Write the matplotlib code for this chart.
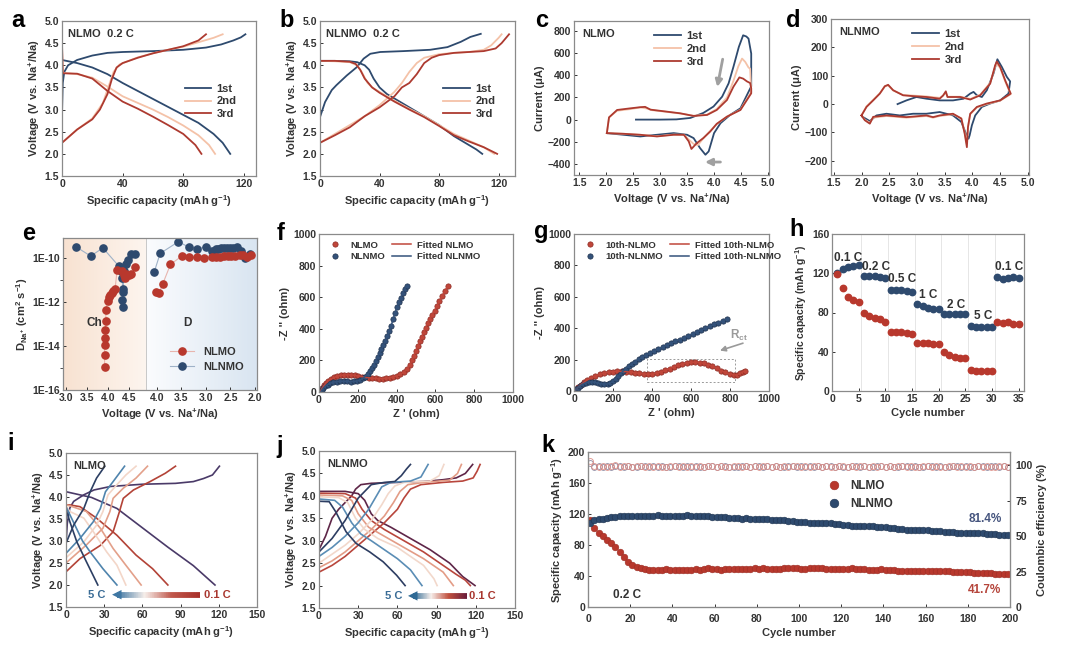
import numpy as np
import matplotlib
matplotlib.use("Agg")
import matplotlib.pyplot as plt
from matplotlib.collections import LineCollection
from matplotlib.colors import LinearSegmentedColormap, to_rgb
from matplotlib.ticker import FixedLocator, FuncFormatter

plt.rcParams.update({
    "font.family": ["Liberation Sans", "DejaVu Sans"],
    "font.weight": "bold",
    "axes.labelweight": "bold",
    "mathtext.fontset": "custom",
    "mathtext.rm": "Liberation Sans:bold",
    "mathtext.it": "Liberation Sans:bold",
    "mathtext.bf": "Liberation Sans:bold",
    "font.size": 7.5,
    "text.color": "#333333",
    "axes.labelcolor": "#333333",
    "xtick.color": "#333333",
    "ytick.color": "#333333",
})

NAVY = "#2e4a6e"
PEACH = "#f4c2a8"
DRED = "#ad3a30"
RED = "#b8382d"

# ---------------- data ----------------
# a: NLMO 0.2 C, (capacity, voltage)
a_ch = {
    "1st": [(0, 2.9), (0.5, 3.6), (1.5, 3.85), (4, 4.0), (10, 4.12), (20, 4.22), (30, 4.28), (40, 4.30),
            (60, 4.32), (80, 4.35), (95, 4.40), (105, 4.47), (113, 4.56), (118, 4.63), (121, 4.70)],
    "2nd": [(0, 2.25), (10, 2.55), (20, 2.8), (27, 3.15), (31, 3.55), (34, 3.85), (38, 4.02), (50, 4.18),
            (60, 4.27), (70, 4.35), (80, 4.42), (90, 4.52), (100, 4.62), (106, 4.70)],
    "3rd": [(0, 2.25), (5, 2.4), (10, 2.55), (20, 2.78), (25, 3.0), (30, 3.35), (33, 3.7), (36, 3.95),
            (40, 4.05), (50, 4.17), (60, 4.27), (70, 4.35), (80, 4.43), (90, 4.56), (95, 4.70)],
}
a_dis = {
    "1st": [(0, 4.12), (10, 4.05), (20, 3.95), (30, 3.8), (40, 3.6), (50, 3.42), (60, 3.24), (70, 3.06),
            (80, 2.88), (90, 2.7), (100, 2.45), (106, 2.25), (111, 2.0)],
    "2nd": [(0, 4.4), (0.5, 3.83), (10, 3.8), (20, 3.72), (30, 3.52), (40, 3.3), (50, 3.15), (60, 3.0),
            (70, 2.83), (80, 2.64), (90, 2.42), (97, 2.2), (101, 2.0)],
    "3rd": [(0, 4.5), (0.5, 3.82), (10, 3.81), (20, 3.7), (30, 3.42), (40, 3.18), (50, 3.02), (60, 2.84),
            (70, 2.65), (80, 2.45), (88, 2.2), (92, 2.0)],
}
# b: NLNMO 0.2 C
b_ch = {
    "1st": [(0, 2.83), (3.4, 3.17), (7.9, 3.44), (11, 3.55), (18, 3.77), (24.8, 3.96), (29.3, 4.15),
            (33.8, 4.26), (40.5, 4.3), (56, 4.32), (74, 4.35), (85.6, 4.41), (94.6, 4.53), (101, 4.64),
            (108, 4.71)],
    "2nd": [(0, 2.25), (10, 2.45), (20, 2.65), (30, 2.85), (40, 3.1), (50, 3.4), (55, 3.6), (60, 3.85),
            (65, 4.05), (70, 4.17), (80, 4.25), (90, 4.28), (100, 4.3), (110, 4.35), (115, 4.45),
            (120, 4.62), (122, 4.7)],
    "3rd": [(0, 2.25), (10, 2.42), (20, 2.6), (30, 2.85), (40, 3.05), (50, 3.3), (55, 3.5), (60, 3.6),
            (65, 3.8), (70, 4.05), (75, 4.17), (80, 4.23), (90, 4.28), (100, 4.3), (110, 4.32),
            (118, 4.38), (122, 4.5), (127, 4.7)],
}
b_dis = {
    "1st": [(0, 4.1), (10, 4.1), (20, 4.09), (25, 4.07), (30, 4.0), (33, 3.9), (36, 3.7), (40, 3.5),
            (45, 3.35), (50, 3.25), (60, 3.05), (70, 2.85), (80, 2.65), (90, 2.4), (100, 2.2), (105, 2.1),
            (109, 2.0)],
    "2nd": [(0, 4.1), (10, 4.09), (20, 4.07), (25, 4.0), (28, 3.85), (32, 3.6), (35, 3.5), (40, 3.4),
            (50, 3.2), (60, 3.02), (70, 2.85), (80, 2.65), (90, 2.45), (100, 2.3), (110, 2.15), (117, 2.0)],
    "3rd": [(0, 4.1), (10, 4.1), (20, 4.08), (24, 4.03), (27, 3.9), (30, 3.7), (35, 3.5), (40, 3.38),
            (50, 3.18), (60, 3.0), (70, 2.83), (80, 2.63), (90, 2.42), (100, 2.28), (110, 2.15), (119, 2.0)],
}
# c: CV NLMO (voltage, current uA)
c_cv = {
    "1st": [(2.55, 0), (3.0, 0), (3.3, 2), (3.56, 15), (3.8, 60), (3.99, 118), (4.15, 207), (4.27, 327),
            (4.36, 477), (4.46, 656), (4.54, 761), (4.6, 750), (4.64, 731), (4.69, 596), (4.69, 387),
            (4.69, 300), (4.49, 102), (4.3, 43), (4.12, -32), (4.0, -122), (3.9, -287), (3.84, -317),
            (3.74, -257), (3.62, -167), (3.5, -137), (3.25, -122), (2.94, -137), (2.63, -152),
            (2.32, -137), (2.01, -122)],
    "2nd": [(2.01, -122), (2.05, 20), (2.2, 80), (2.45, 95), (2.63, 110), (2.75, 100), (2.85, 85),
            (3.12, 70), (3.37, 55), (3.62, 35), (3.87, 45), (4.05, 95), (4.24, 200), (4.36, 350),
            (4.45, 480), (4.52, 551), (4.58, 520), (4.64, 470), (4.67, 460), (4.69, 250), (4.49, 90),
            (4.24, 27), (4.05, -40), (3.93, -100), (3.8, -170), (3.7, -230), (3.62, -220), (3.53, -180),
            (3.44, -137), (3.25, -135), (2.94, -150), (2.63, -137), (2.32, -128), (2.01, -122)],
    "3rd": [(2.01, -122), (2.05, 20), (2.2, 87), (2.45, 102), (2.63, 112), (2.72, 115), (2.82, 90),
            (3.12, 72), (3.37, 57), (3.62, 33), (3.87, 42), (4.05, 87), (4.24, 177), (4.36, 297),
            (4.47, 381), (4.54, 370), (4.61, 345), (4.67, 330), (4.69, 282), (4.69, 237), (4.49, 87),
            (4.24, 27), (4.05, -38), (3.93, -107), (3.8, -167), (3.68, -212), (3.58, -265), (3.53, -197),
            (3.44, -137), (3.25, -137), (2.94, -152), (2.63, -137), (2.32, -128), (2.01, -122)],
}
# d: CV NLNMO
d_cv = {
    "1st": [(2.65, 0), (2.81, 13), (2.99, 25), (3.17, 19), (3.41, 13), (3.65, 13), (3.84, 19), (3.96, 37),
            (4.02, 43), (4.08, 31), (4.17, 25), (4.26, 49), (4.38, 108), (4.45, 158), (4.53, 131),
            (4.62, 96), (4.68, 80), (4.65, 37), (4.5, 13), (4.32, 2), (4.17, -10), (4.05, -40),
            (3.99, -75), (3.95, -110), (3.93, -122), (3.87, -98), (3.8, -63), (3.65, -40), (3.41, -28),
            (3.17, -34), (2.93, -34), (2.69, -40), (2.45, -34), (2.27, -40), (2.15, -60), (2.02, -45)],
    "2nd": [(2.0, -40), (2.09, -8), (2.21, 15), (2.33, 38), (2.42, 62), (2.48, 66), (2.57, 48),
            (2.75, 32), (2.93, 30), (3.17, 27), (3.41, 22), (3.47, 30), (3.52, 40), (3.55, 26),
            (3.78, 26), (3.96, 18), (4.14, 33), (4.32, 75), (4.41, 132), (4.43, 142), (4.5, 128),
            (4.59, 80), (4.69, 35), (4.5, 12), (4.26, 0), (4.08, -12), (3.96, -36), (3.92, -80),
            (3.9, -140), (3.86, -100), (3.8, -50), (3.65, -36), (3.41, -42), (3.29, -48), (3.17, -42),
            (2.81, -48), (2.45, -42), (2.21, -48), (2.15, -66), (2.06, -55), (2.0, -40)],
    "3rd": [(2.0, -40), (2.09, -10), (2.21, 13), (2.33, 37), (2.42, 63), (2.48, 68), (2.57, 49),
            (2.75, 31), (2.93, 28), (3.17, 25), (3.41, 19), (3.47, 30), (3.52, 45), (3.55, 25),
            (3.78, 25), (3.96, 16), (4.14, 31), (4.32, 72), (4.41, 137), (4.44, 150), (4.5, 131),
            (4.59, 84), (4.69, 37), (4.5, 13), (4.26, 2), (4.08, -10), (3.96, -34), (3.92, -81),
            (3.9, -152), (3.86, -104), (3.8, -51), (3.65, -34), (3.41, -40), (3.29, -46), (3.17, -40),
            (2.81, -46), (2.45, -40), (2.21, -45), (2.15, -69), (2.06, -57), (2.0, -40)],
}
# e: GITT diffusion coefficients, (voltage, log10 D)
e_nlmo_ch = [(3.92, -14.97), (3.92, -14.42), (3.92, -13.94), (3.92, -13.64), (3.94, -13.26), (3.95, -12.85),
             (3.95, -12.35), (3.99, -11.97), (4.02, -11.8), (4.05, -11.7), (4.09, -11.6), (4.13, -11.5),
             (4.17, -11.4), (4.22, -10.53), (4.33, -10.58), (4.38, -10.76), (4.40, -10.9), (4.44, -10.73),
             (4.5, -10.8), (4.56, -10.73), (4.64, -10.42)]
e_nlmo_dis = [(4.02, -11.55), (3.95, -11.6), (3.88, -11.2), (3.72, -10.3), (3.49, -9.92), (3.34, -9.97),
              (3.19, -9.97), (3.04, -10.0), (2.88, -9.97), (2.8, -9.96), (2.72, -9.95), (2.64, -9.93),
              (2.56, -9.92), (2.48, -9.9), (2.4, -9.9), (2.31, -9.88), (2.24, -9.88), (2.17, -9.97),
              (2.09, -9.85)]
e_nlnmo_ch = [(3.24, -9.5), (3.59, -9.92), (3.88, -9.55), (4.26, -10.38), (4.31, -10.6), (4.34, -10.9),
              (4.35, -11.4), (4.35, -11.55), (4.34, -11.9), (4.35, -12.24), (4.38, -10.6), (4.43, -10.3),
              (4.48, -10.08), (4.54, -9.82), (4.64, -9.82)]
e_nlnmo_dis = [(4.05, -10.64), (3.93, -9.8), (3.56, -9.27), (3.34, -9.52), (3.19, -9.58), (3.0, -9.52),
               (2.87, -9.67), (2.8, -9.62), (2.75, -9.6), (2.7, -9.57), (2.64, -9.55), (2.57, -9.55),
               (2.51, -9.55), (2.44, -9.55), (2.37, -9.52), (2.29, -9.7), (2.2, -10.03), (2.1, -9.82)]
# f: EIS fresh (Z', -Z'')
f_nlmo = [(8, 2), (12, 14), (18, 28), (26, 42), (36, 56), (48, 70), (62, 82), (78, 92), (95, 100), (112, 105),
          (130, 108), (148, 109), (166, 108), (184, 105), (202, 101), (220, 97), (238, 93), (256, 90),
          (274, 87), (292, 86), (310, 85), (328, 85), (346, 87), (364, 90), (382, 95), (400, 102),
          (420, 112), (440, 128), (456, 148), (469, 172), (480, 200), (490, 230), (500, 262), (510, 292),
          (520, 320), (530, 348), (540, 378), (550, 408), (560, 436), (572, 462), (584, 490), (596, 515),
          (608, 545), (621, 576), (635, 608), (650, 640), (664, 672)]
f_nlnmo = [(10, 2), (15, 12), (22, 24), (32, 36), (44, 47), (58, 56), (74, 62), (92, 66), (110, 68),
           (128, 68), (146, 67), (164, 66), (182, 67), (198, 70), (212, 76), (226, 86), (238, 98), (250, 112),
           (262, 130), (272, 150), (282, 172), (292, 195), (302, 220), (312, 246), (322, 272), (332, 298),
           (342, 325), (352, 352), (362, 385), (372, 420), (382, 460), (392, 500), (402, 535), (412, 568),
           (422, 598), (432, 626), (442, 652), (452, 674)]
# g: EIS after 10 cycles
g_nlmo = [(5, 3), (12, 12), (22, 25), (35, 40), (50, 55), (68, 70), (88, 84), (110, 96), (132, 106), (155, 114),
          (178, 120), (200, 123), (222, 125), (245, 125), (268, 123), (290, 120), (312, 116), (335, 112),
          (358, 108), (380, 106), (402, 108), (424, 114), (446, 122), (468, 132), (490, 143), (512, 154),
          (534, 164), (556, 172), (578, 178), (600, 182), (622, 183), (644, 181), (666, 176), (688, 168),
          (710, 157), (732, 144), (754, 130), (776, 118), (798, 108), (820, 102), (838, 104), (852, 112),
          (866, 122), (876, 128)]
g_nlnmo = [(4, 2), (10, 10), (20, 22), (32, 34), (45, 44), (60, 52), (76, 57), (92, 58), (108, 55), (124, 50),
           (140, 46), (156, 44), (172, 45), (186, 50), (200, 62), (214, 78), (228, 96), (240, 112), (252, 127),
           (265, 142), (280, 157), (296, 172), (313, 187), (331, 201), (350, 215), (370, 229), (390, 242),
           (411, 255), (432, 267), (454, 280), (476, 292), (498, 304), (520, 316), (542, 328), (564, 340),
           (586, 352), (608, 364), (630, 376), (652, 388), (674, 400), (696, 412), (718, 424), (740, 436),
           (762, 447), (784, 458)]
# h: rate capability
h_cycles = list(range(1, 36))
h_nlmo = [119, 105, 96, 93, 91, 79, 76, 74, 73, 70, 60, 60, 60, 59, 58, 49, 49, 49, 48, 48,
          40, 37, 35, 34, 34, 21, 20, 20, 20, 20, 70, 69, 70, 68, 68]
h_nlnmo = [120, 124, 126, 127, 128, 117, 117, 117, 116, 115, 103, 103, 103, 102, 101, 89, 87, 85, 84, 84,
           78, 78, 78, 78, 78, 66, 65, 65, 65, 65, 116, 114, 115, 116, 115]
h_rates = ["0.1 C", "0.2 C", "0.5 C", "1 C", "2 C", "5 C", "0.1 C"]
h_rate_pos = [(3.1, 136), (8.3, 126), (13.1, 114), (18.1, 98), (23.3, 88), (28.3, 76), (33.3, 126)]
# i: NLMO rate profiles, order: first cycle, 0.1 C ... 5 C
i_ch = [
    [(0, 2.91), (1, 3.4), (3, 3.75), (6, 3.9), (14, 4.05), (22, 4.16), (35, 4.24), (60, 4.29), (86, 4.31),
     (100, 4.35), (108, 4.42), (115, 4.5), (120.5, 4.7)],
    [(0, 2.3), (11, 2.6), (27, 2.9), (37, 3.21), (42, 3.67), (45, 3.97), (53, 4.16), (66, 4.35), (78, 4.54),
     (86, 4.7)],
    [(0, 2.5), (16, 2.91), (29, 3.29), (34.5, 3.67), (37, 3.97), (45, 4.2), (55, 4.43), (64, 4.7)],
    [(0, 2.62), (14, 2.98), (24, 3.36), (29, 3.67), (33, 4.05), (40, 4.28), (47, 4.5), (55, 4.7)],
    [(0, 2.72), (11, 3.06), (21.5, 3.44), (27, 3.74), (31, 4.12), (37, 4.35), (46, 4.7)],
    [(0, 2.95), (6, 3.36), (14, 3.74), (19, 4.12), (24, 4.43), (30.5, 4.7)],
]
i_dis = [
    [(0, 4.12), (20, 3.99), (40, 3.74), (60, 3.3), (80, 2.86), (100, 2.44), (117, 2.0)],
    [(0, 3.82), (3, 3.82), (11, 3.78), (24, 3.52), (40, 3.13), (55, 2.68), (68, 2.37), (80, 2.0)],
    [(0, 3.82), (3, 3.8), (16, 3.67), (27, 3.29), (37, 2.83), (47, 2.45), (59, 2.0)],
    [(0, 3.8), (3, 3.67), (14, 3.52), (21.5, 3.21), (32, 2.75), (40, 2.45), (47, 2.0)],
    [(0, 3.78), (3, 3.6), (8, 3.3), (13, 3.0), (19, 2.75), (29, 2.37), (40, 2.0)],
    [(0, 3.72), (3, 3.44), (8.5, 2.98), (16, 2.53), (25, 2.0)],
]
i_colors = ["#4a3a68", "#b34337", "#e3a08a", "#f3d6c8", "#4f84ad", "#2c3f63"]
# j: NLNMO rate profiles
j_ch = [
    [(0, 2.8), (5, 3.1), (10, 3.5), (15, 3.7), (20, 3.85), (25, 4.0), (28, 4.15), (32, 4.25), (40, 4.28),
     (60, 4.3), (80, 4.32), (95, 4.36), (105, 4.4), (112, 4.5), (117.6, 4.7)],
    [(0, 2.3), (10, 2.45), (20, 2.65), (30, 2.9), (40, 3.15), (50, 3.4), (60, 3.7), (65, 3.95), (70, 4.15),
     (78, 4.25), (95, 4.3), (110, 4.33), (118, 4.4), (121, 4.55), (123.3, 4.7)],
    [(0, 2.4), (10, 2.55), (20, 2.75), (30, 3.0), (40, 3.25), (50, 3.55), (57, 3.85), (62, 4.1), (68, 4.25),
     (80, 4.3), (100, 4.35), (106, 4.5), (109, 4.7)],
    [(0, 2.5), (10, 2.7), (20, 2.9), (30, 3.15), (40, 3.45), (48, 3.8), (53, 4.05), (58, 4.22), (65, 4.3),
     (85, 4.33), (92, 4.45), (95.6, 4.7)],
    [(0, 2.65), (10, 2.85), (20, 3.1), (30, 3.4), (38, 3.7), (44, 4.0), (48, 4.2), (55, 4.3), (70, 4.33),
     (78, 4.42), (83.5, 4.7)],
    [(0, 2.75), (5, 2.9), (10, 3.05), (15, 3.25), (20, 3.45), (25, 3.7), (30, 3.95), (35, 4.1), (40, 4.25),
     (50, 4.3), (58, 4.32), (63, 4.45), (67, 4.6), (70, 4.7)],
]
j_dis = [
    [(0, 4.1), (20, 4.1), (30, 4.05), (35, 3.9), (40, 3.6), (45, 3.45), (55, 3.3), (70, 3.05), (85, 2.8),
     (100, 2.5), (110, 2.2), (119.4, 2.0)],
    [(0, 4.06), (20, 4.05), (28, 3.95), (33, 3.7), (40, 3.45), (50, 3.25), (65, 3.0), (80, 2.75), (95, 2.45),
     (105, 2.25), (112, 2.12), (115.8, 2.0)],
    [(0, 4.02), (18, 4.0), (25, 3.9), (30, 3.6), (38, 3.3), (50, 3.1), (65, 2.85), (80, 2.6), (95, 2.3),
     (102.8, 2.0)],
    [(0, 3.98), (15, 3.96), (22, 3.85), (28, 3.5), (35, 3.25), (45, 3.05), (60, 2.85), (70, 2.65), (80, 2.45),
     (88, 2.15), (90.4, 2.0)],
    [(0, 3.93), (12, 3.9), (18, 3.75), (25, 3.4), (32, 3.15), (40, 3.0), (50, 2.8), (60, 2.6), (70, 2.35),
     (78.8, 2.0)],
    [(0, 3.88), (7.8, 3.87), (12.9, 3.64), (20.7, 3.2), (28.4, 2.94), (38.8, 2.75), (49.1, 2.53),
     (59.4, 2.23), (65.9, 2.0)],
]
j_colors = ["#5e2648", "#b8463c", "#e39c86", "#f2d8cb", "#5a8db5", "#2d3d62"]
# k: long cycling at 0.2 C (every second cycle)
k_cycles = list(range(1, 200, 2))
k_nlnmo = [108, 112, 113, 114, 115, 116, 116, 117, 117, 117, 117, 118, 117, 118, 118, 118, 119, 118, 118, 117,
           118, 118, 118, 119, 118, 118, 117, 117, 117, 116, 116, 116, 116, 115, 115, 115, 114, 115, 114, 113,
           113, 113, 113, 112, 112, 112, 112, 111, 111, 110, 110, 110, 109, 109, 109, 108, 108, 108, 107, 107,
           106, 106, 105, 105, 105, 104, 104, 104, 103, 103, 103, 102, 102, 101, 101, 100, 100, 100, 99, 99,
           99, 98, 98, 98, 97, 97, 97, 96, 96, 96, 96, 95, 95, 95, 94, 94, 94, 93, 93, 93]
k_nlmo = [112, 102, 96, 91, 87, 82, 77, 71, 64, 58, 54, 52, 50, 49, 48, 48, 48, 48, 49, 48,
          48, 48, 48, 48, 48, 49, 48, 49, 50, 49, 49, 48, 49, 49, 49, 49, 49, 49, 49, 50,
          49, 50, 49, 49, 49, 49, 50, 50, 50, 50, 49, 49, 50, 50, 50, 50, 49, 49, 49, 49,
          49, 49, 50, 49, 49, 49, 48, 48, 48, 49, 48, 48, 48, 47, 47, 47, 47, 47, 47, 47,
          47, 46, 46, 46, 46, 46, 45, 45, 45, 45, 45, 44, 44, 44, 44, 44, 43, 43, 43, 43]
k_ce_nlmo = [103.2, 99.5, 98.8, 99.6, 98.9, 99.3, 99.8, 98.7, 99.4, 99.1, 98.6, 99.7, 99.2, 98.9, 99.5,
             98.8, 99.6, 99.0, 98.7, 99.4, 99.2, 98.9, 99.7, 98.6, 99.3, 99.0, 99.5, 98.8, 99.4, 99.1,
             98.7, 99.6, 99.0, 98.9, 99.5, 99.2, 98.6, 99.4, 99.0, 99.7, 98.8, 99.3, 99.1, 98.7, 99.5,
             99.0, 99.4, 98.8, 99.6, 99.1, 98.9, 99.3, 98.7, 99.5, 99.2, 98.8, 99.6, 99.0, 98.7, 99.4,
             99.1, 98.9, 99.5, 98.8, 99.3, 99.7, 98.9, 99.2, 98.7, 99.4, 99.0, 99.6, 98.8, 99.3, 99.1,
             98.7, 99.5, 99.0, 98.9, 99.4, 99.2, 98.8, 99.6, 99.0, 98.7, 99.3, 99.5, 98.9, 99.1, 98.8,
             99.4, 99.0, 99.6, 98.7, 99.2, 99.0, 98.8, 99.5, 99.1, 98.9]
k_ce_nlnmo = [101.5, 98.6, 99.2, 98.9, 99.5, 98.7, 99.1, 99.4, 98.8, 99.6, 99.0, 98.7, 99.3, 99.5, 98.9,
              99.2, 98.6, 99.4, 99.0, 98.8, 99.5, 99.1, 98.7, 99.3, 98.9, 99.6, 99.0, 98.8, 99.2, 99.5,
              98.7, 99.1, 99.4, 98.9, 99.0, 98.6, 99.5, 99.2, 98.8, 99.3, 99.6, 98.9, 99.1, 98.7, 99.4,
              99.0, 98.8, 99.5, 99.2, 98.7, 99.3, 99.0, 99.6, 98.9, 99.1, 98.8, 99.4, 99.2, 98.7, 99.5,
              99.0, 98.9, 99.3, 99.6, 98.8, 99.1, 99.0, 98.7, 99.4, 99.2, 98.9, 99.5, 99.0, 98.8, 99.3,
              99.1, 98.7, 99.6, 99.0, 98.9, 99.4, 99.2, 98.8, 99.5, 99.0, 98.7, 99.3, 99.1, 98.9, 99.6,
              99.0, 98.8, 99.4, 99.2, 98.7, 99.1, 99.5, 98.9, 99.2, 99.0]

# ---------------- helpers ----------------
W, H = 1080, 653
fig = plt.figure(figsize=(W / 100, H / 100), dpi=100)


def box(l, t, r, b):
    return [l / W, 1 - b / H, (r - l) / W, (b - t) / H]


def style(ax, xlabel, ylabel, ylsize=8):
    for s in ax.spines.values():
        s.set_color("#8a8a8a")
        s.set_linewidth(0.9)
    ax.tick_params(direction="in", length=2, width=0.7, labelsize=7.5, pad=2, colors="#333333")
    ax.set_xlabel(xlabel, fontsize=8, labelpad=3)
    ax.set_ylabel(ylabel, fontsize=ylsize, labelpad=2)


def curve(ax, pts, **kw):
    x, y = zip(*pts)
    return ax.plot(x, y, **kw)


def letter(x, y, s):
    fig.text(x / W, 1 - y / H, s, fontsize=17, fontweight="bold", color="black", va="baseline")


VLAB = "Voltage (V vs. Na$^{+}$/Na)"
CAPLAB = "Specific capacity (mAh g$^{-1}$)"
cyc_cols = {"1st": NAVY, "2nd": PEACH, "3rd": DRED}

# ---------------- a, b ----------------
for pos, ch, dis, title, xmax in [((62, 21, 256, 176), a_ch, a_dis, "NLMO  0.2 C", 128),
                                  ((320, 21, 515, 176), b_ch, b_dis, "NLNMO  0.2 C", 131)]:
    ax = fig.add_axes(box(*pos))
    for key in ["1st", "2nd", "3rd"]:
        curve(ax, ch[key], color=cyc_cols[key], lw=1.3, label=key)
        curve(ax, dis[key], color=cyc_cols[key], lw=1.3)
    ax.set_xlim(0, xmax)
    ax.set_ylim(1.5, 5.0)
    ax.set_xticks([0, 40, 80, 120])
    ax.set_yticks(np.arange(1.5, 5.01, 0.5))
    style(ax, CAPLAB, VLAB)
    ax.text(0.03, 0.95, title, transform=ax.transAxes, fontsize=8, va="top")
    ax.legend(loc="upper left", bbox_to_anchor=(0.58, 0.66), frameon=False, fontsize=8,
              handlelength=2.4, labelspacing=0.25, handletextpad=0.5)
letter(11, 27, "a")
letter(279, 27, "b")

# ---------------- c, d ----------------
for pos, cv, title, ylim, yt in [((574, 21, 769, 175), c_cv, "NLMO", (-500, 890), np.arange(-400, 801, 200)),
                                 ((831, 19, 1029, 175), d_cv, "NLNMO", (-250, 300), np.arange(-200, 301, 100))]:
    ax = fig.add_axes(box(*pos))
    for key in ["1st", "2nd", "3rd"]:
        curve(ax, cv[key], color=cyc_cols[key], lw=1.3, label=key)
    ax.set_xlim(1.4 if title == "NLMO" else 1.45, 5.02)
    ax.set_ylim(*ylim)
    ax.set_xticks(np.arange(1.5, 5.01, 0.5))
    ax.set_yticks(yt)
    style(ax, VLAB, "Current (\u03bcA)")
    ax.text(0.04, 0.95, title, transform=ax.transAxes, fontsize=8, va="top")
    ax.legend(loc="upper left", bbox_to_anchor=(0.36, 1.0), frameon=False, fontsize=8,
              handlelength=2.4, labelspacing=0.25, handletextpad=0.5)
    if title == "NLMO":
        ax.annotate("", xy=(4.05, 270), xytext=(4.17, 570),
                    arrowprops=dict(arrowstyle="-|>", color="#a0a0a0", lw=2.0, mutation_scale=10))
        ax.annotate("", xy=(3.78, -383), xytext=(4.17, -383),
                    arrowprops=dict(arrowstyle="-|>", color="#a0a0a0", lw=2.0, mutation_scale=10))
letter(535, 27, "c")
letter(786, 27, "d")

# ---------------- e ----------------
epos = box(63, 238, 257, 390)
bg = fig.add_axes(epos, zorder=0)
u = np.linspace(0, 1, 400)
left_c, mid_l = np.array(to_rgb("#f8e2d1")), np.array(to_rgb("#fdf5ef"))
mid_r, right_c = np.array(to_rgb("#fbfcfe")), np.array(to_rgb("#d9e5f1"))
cols = np.array([left_c + (mid_l - left_c) * (v / 0.43) if v < 0.43
                 else mid_r + (right_c - mid_r) * ((v - 0.43) / 0.57) for v in u])
bg.imshow(cols[None, :, :], aspect="auto", extent=[0, 1, 0, 1])
bg.axis("off")

ax = fig.add_axes(epos, zorder=1)
ax.patch.set_alpha(0)


def ch_pos(v):
    return 0.015 + (np.asarray(v) - 3.0) / 1.5 * 0.325


def dis_pos(v):
    return 0.483 + (4.0 - np.asarray(v)) / 2.0 * 0.507


for ch, dis, col, lc, lab in [(e_nlnmo_ch, e_nlnmo_dis, NAVY, "#9fb2c8", "NLNMO"),
                              (e_nlmo_ch, e_nlmo_dis, RED, "#e8b5ae", "NLMO")]:
    v1, d1 = zip(*ch)
    v2, d2 = zip(*dis)
    ax.plot(ch_pos(v1), 10.0 ** np.array(d1), "-o", color=lc, lw=0.8, ms=5.2, mfc=col, mec=col)
    ax.plot(dis_pos(v2), 10.0 ** np.array(d2), "-o", color=lc, lw=0.8, ms=5.2, mfc=col, mec=col, label=lab)
ax.axvline(0.43, color="#c8c8c8", lw=0.7)
ax.set_yscale("log")
ax.set_xlim(0, 1)
ax.set_ylim(1e-16, 10 ** -9.1)
ax.yaxis.set_major_locator(FixedLocator([1e-16, 1e-14, 1e-12, 1e-10]))
ax.yaxis.set_minor_locator(FixedLocator([1e-15, 1e-13, 1e-11]))
ax.yaxis.set_major_formatter(FuncFormatter(lambda v, p: "1E%d" % round(np.log10(v))))
ax.yaxis.set_minor_formatter(FuncFormatter(lambda v, p: ""))
xt_ch = [3.0, 3.5, 4.0, 4.5]
xt_dis = [4.0, 3.5, 3.0, 2.5, 2.0]
ax.set_xticks(list(ch_pos(xt_ch)) + list(dis_pos(xt_dis)))
ax.set_xticklabels(["%.1f" % v for v in xt_ch + xt_dis])
style(ax, VLAB, "D$_{Na^{+}}$ (cm$^{2}$ s$^{-1}$)")
ax.text(0.12, 0.42, "Ch", transform=ax.transAxes, fontsize=8.5)
ax.text(0.62, 0.42, "D", transform=ax.transAxes, fontsize=8.5)
h_, l_ = ax.get_legend_handles_labels()
ax.legend(h_[::-1], l_[::-1], loc="center left", bbox_to_anchor=(0.5, 0.2), frameon=False, fontsize=8,
          handlelength=2.2, labelspacing=0.4)
letter(22, 240, "e")

# ---------------- f, g ----------------
for pos, s1, s2, names in [((319, 234, 513, 392), f_nlmo, f_nlnmo, ["NLMO", "NLNMO"]),
                           ((574, 234, 769, 391), g_nlmo, g_nlnmo, ["10th-NLMO", "10th-NLNMO"])]:
    ax = fig.add_axes(box(*pos))
    hs = []
    for pts, col, ec, nm in [(s1, "#c0463a", "#8c2a22", names[0]), (s2, "#34527a", "#1e314d", names[1])]:
        x, y = zip(*pts)
        hs.append(ax.plot(x, y, "o", ms=3.8, mfc=col, mec=ec, mew=0.5, label=nm)[0])
    for pts, col, nm in [(s1, "#c0463a", names[0]), (s2, "#34527a", names[1])]:
        x, y = zip(*pts)
        hs.append(ax.plot(x, y, "-", color=col, lw=1.1, label="Fitted " + nm)[0])
    ax.set_xlim(0, 1000)
    ax.set_ylim(0, 1000)
    ax.set_xticks(range(0, 1001, 200))
    ax.set_yticks(range(0, 1001, 200))
    style(ax, "Z ' (ohm)", "-Z '' (ohm)")
    ax.legend(handles=hs, loc="upper left", ncol=2, frameon=False, fontsize=6.8, handlelength=2.0,
              columnspacing=0.8, labelspacing=0.3, handletextpad=0.6, borderaxespad=0.3)
    if names[0].startswith("10th"):
        ax.add_patch(plt.Rectangle((373, 57), 452, 149, fill=False, ls=(0, (2, 2)), lw=0.7, ec="#9a9a9a"))
        ax.annotate("", xy=(735, 252), xytext=(880, 310),
                    arrowprops=dict(arrowstyle="-|>", color="#9a9a9a", lw=1.2, mutation_scale=8))
        ax.text(800, 330, "R$_{ct}$", color="#9a9a9a", fontsize=8.5)
letter(277, 240, "f")
letter(534, 238, "g")

# ---------------- h ----------------
ax = fig.add_axes(box(832, 234, 1024, 391))
for xv in [5.5, 10.5, 15.5, 20.5, 25.5, 30.5]:
    ax.axvline(xv, color="#e6e6e6", lw=0.7, zorder=0)
ax.plot(h_cycles, h_nlnmo, "o", ms=4.6, mfc=NAVY, mec=NAVY)
ax.plot(h_cycles, h_nlmo, "o", ms=4.6, mfc=RED, mec=RED)
for txt, (xv, yv) in zip(h_rates, h_rate_pos):
    ax.text(xv, yv, txt, ha="center", va="center", fontsize=8.5)
ax.set_xlim(0, 36)
ax.set_ylim(0, 160)
ax.set_xticks(range(0, 36, 5))
ax.set_yticks(range(0, 161, 40))
style(ax, "Cycle number", CAPLAB, ylsize=7.5)
letter(789, 236, "h")


# ---------------- i, j ----------------
def grad_arrow(ax, x0, x1, y, cmap):
    xs = np.linspace(x0, x1, 120)
    segs = [[(xs[k], y), (xs[k + 1], y)] for k in range(len(xs) - 1)]
    lc = LineCollection(segs, colors=cmap(np.linspace(1, 0, len(segs))), linewidths=4.2, capstyle="butt")
    ax.add_collection(lc)
    ax.annotate("", xy=(x1 - 6, y), xytext=(x1 + 1, y),
                arrowprops=dict(arrowstyle="-|>", color=cmap(0.0), lw=0, mutation_scale=17))


for pos, ch, dis, cols_, title, arr, cm_cols in [
        ((66, 453, 257, 607), i_ch, i_dis, i_colors, "NLMO", (105, 40, 1.78, 31, 108),
         ["#3f77a3", "#f6eeea", "#c0574b", "#a8302a"]),
        ((319, 451, 515, 608), j_ch, j_dis, j_colors, "NLNMO", (113, 72, 1.77, 64, 115),
         ["#2f6a95", "#f6eeea", "#c0503e", "#6b1d3a"])]:
    ax = fig.add_axes(box(*pos))
    for c_pts, d_pts, col in zip(ch, dis, cols_):
        curve(ax, c_pts, color=col, lw=1.2)
        curve(ax, d_pts, color=col, lw=1.2)
    ax.set_xlim(0, 150)
    ax.set_ylim(1.5, 5.0)
    ax.set_xticks(range(0, 151, 30))
    ax.set_yticks(np.arange(1.5, 5.01, 0.5))
    style(ax, CAPLAB, VLAB)
    ax.text(0.04, 0.95, title, transform=ax.transAxes, fontsize=8, va="top")
    x0, x1, yv, t5, t01 = arr
    grad_arrow(ax, x0, x1, yv, LinearSegmentedColormap.from_list("g", cm_cols))
    ax.text(t5, yv, "5 C", ha="right", va="center", color="#3a6c96", fontsize=8)
    ax.text(t01, yv, "0.1 C", ha="left", va="center", color="#a8362e", fontsize=8)
letter(7, 450, "i")
letter(276, 453, "j")

# ---------------- k ----------------
ax = fig.add_axes(box(588, 452, 1010, 607))
ax2 = ax.twinx()
ax2.plot(k_cycles, k_ce_nlnmo, "o", ms=4.2, mfc="none", mec="#8e8aa2", mew=0.6)
ax2.plot(k_cycles, k_ce_nlmo, "o", ms=4.2, mfc="none", mec="#dc8f88", mew=0.6)
ax2.set_ylim(0, 109.3)
ax2.set_yticks([0, 25, 50, 75, 100])
ax.set_zorder(ax2.get_zorder() + 1)
ax.patch.set_visible(False)
ax.plot(k_cycles, k_nlmo, "o", ms=4.8, mfc=RED, mec="#9c2e25", mew=0.4, label="NLMO")
ax.plot(k_cycles, k_nlnmo, "o", ms=4.8, mfc=NAVY, mec="#1f3450", mew=0.4, label="NLNMO")
ax.set_xlim(0, 200)
ax.set_ylim(0, 200)
ax.set_xticks(range(0, 201, 20))
ax.set_yticks(range(0, 201, 40))
style(ax, "Cycle number", CAPLAB)
ax.tick_params(axis="x", pad=5)
for s in ax2.spines.values():
    s.set_color("#8a8a8a")
ax2.tick_params(direction="in", length=2, width=0.7, labelsize=7.5, pad=4, colors="#333333")
ax2.set_ylabel("Coulombic efficiency (%)", fontsize=8, labelpad=3)
ax.legend(loc="center left", bbox_to_anchor=(0.53, 0.72), frameon=False, fontsize=8.5,
          handletextpad=0.4, labelspacing=0.5, markerscale=1.3)
ax.text(196, 114, "81.4%", ha="right", va="center", color="#46557e", fontsize=8.5)
ax.text(196, 22, "41.7%", ha="right", va="center", color="#b5453b", fontsize=8.5)
ax.text(12, 16, "0.2 C", ha="left", va="center", fontsize=8.5)
letter(541, 452, "k")

fig.savefig("out.png", dpi=100, facecolor="white")
